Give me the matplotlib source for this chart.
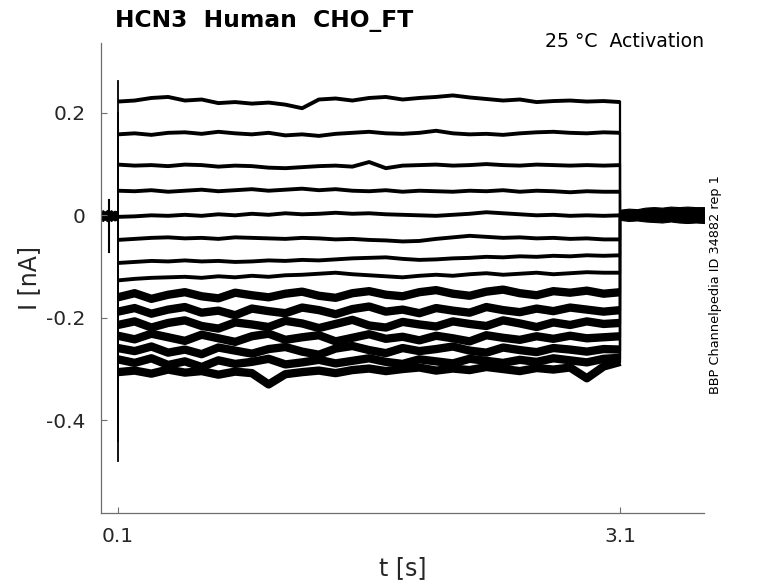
import numpy as np
import matplotlib
matplotlib.use("Agg")
import matplotlib.pyplot as plt

# --- data ---
step_t = np.round(np.arange(0.1, 3.101, 0.1), 2)   # sample times during the step [s]

tr01 = [0.222, 0.224, 0.229, 0.231, 0.224, 0.226, 0.219, 0.221, 0.218, 0.220, 0.216, 0.209, 0.226, 0.228, 0.224, 0.229,
        0.231, 0.226, 0.229, 0.231, 0.234, 0.230, 0.227, 0.224, 0.226, 0.221, 0.223, 0.224, 0.222, 0.223, 0.221]
tr02 = [0.158, 0.160, 0.157, 0.161, 0.162, 0.159, 0.163, 0.160, 0.158, 0.161, 0.156, 0.158, 0.155, 0.159, 0.161, 0.163,
        0.160, 0.159, 0.161, 0.165, 0.160, 0.158, 0.159, 0.157, 0.160, 0.162, 0.163, 0.161, 0.160, 0.162, 0.161]
tr03 = [0.099, 0.097, 0.098, 0.096, 0.099, 0.098, 0.095, 0.097, 0.096, 0.093, 0.092, 0.094, 0.096, 0.097, 0.095, 0.104,
        0.092, 0.097, 0.098, 0.099, 0.097, 0.098, 0.100, 0.098, 0.097, 0.099, 0.098, 0.097, 0.098, 0.097, 0.098]
tr04 = [0.048, 0.047, 0.049, 0.046, 0.048, 0.050, 0.047, 0.049, 0.051, 0.048, 0.050, 0.052, 0.049, 0.051, 0.048, 0.047,
        0.049, 0.046, 0.048, 0.047, 0.046, 0.048, 0.047, 0.049, 0.046, 0.048, 0.047, 0.045, 0.047, 0.046, 0.046]
tr05 = [-0.003, -0.002, 0.000, -0.001, 0.001, -0.001, 0.002, 0.000, 0.003, 0.001, 0.004, 0.002, 0.003, 0.005, 0.003, 0.004,
        0.002, 0.001, 0.000, -0.001, 0.001, 0.003, 0.006, 0.004, 0.002, 0.000, 0.001, -0.001, 0.000, -0.001, 0.000]
tr06 = [-0.048, -0.046, -0.044, -0.043, -0.045, -0.044, -0.046, -0.043, -0.044, -0.045, -0.046, -0.044, -0.045, -0.047, -0.046, -0.048,
        -0.049, -0.051, -0.050, -0.046, -0.043, -0.040, -0.042, -0.044, -0.043, -0.045, -0.044, -0.046, -0.045, -0.047, -0.047]
tr07 = [-0.093, -0.091, -0.089, -0.090, -0.088, -0.090, -0.089, -0.091, -0.090, -0.088, -0.089, -0.087, -0.088, -0.086, -0.084, -0.083,
        -0.082, -0.085, -0.087, -0.086, -0.084, -0.083, -0.081, -0.082, -0.080, -0.081, -0.079, -0.080, -0.078, -0.079, -0.078]
tr08 = [-0.127, -0.124, -0.122, -0.121, -0.120, -0.122, -0.119, -0.121, -0.118, -0.120, -0.117, -0.116, -0.114, -0.112, -0.115, -0.117,
        -0.119, -0.121, -0.118, -0.116, -0.118, -0.115, -0.113, -0.116, -0.114, -0.112, -0.115, -0.113, -0.111, -0.112, -0.112]
tr09 = [-0.160, -0.152, -0.163, -0.155, -0.150, -0.158, -0.162, -0.151, -0.156, -0.160, -0.153, -0.149, -0.157, -0.161, -0.152, -0.148,
        -0.155, -0.158, -0.150, -0.146, -0.153, -0.157, -0.149, -0.145, -0.152, -0.156, -0.148, -0.151, -0.147, -0.153, -0.150]
tr10 = [-0.188, -0.181, -0.192, -0.184, -0.179, -0.190, -0.186, -0.195, -0.182, -0.187, -0.191, -0.180, -0.185, -0.193, -0.183, -0.178,
        -0.188, -0.184, -0.191, -0.181, -0.186, -0.190, -0.179, -0.185, -0.189, -0.182, -0.187, -0.180, -0.184, -0.188, -0.185]
tr11 = [-0.214, -0.207, -0.219, -0.210, -0.205, -0.216, -0.221, -0.209, -0.213, -0.218, -0.206, -0.211, -0.220, -0.212, -0.204, -0.215,
        -0.219, -0.208, -0.213, -0.217, -0.207, -0.212, -0.216, -0.205, -0.211, -0.218, -0.209, -0.214, -0.207, -0.212, -0.210]
tr12 = [-0.235, -0.242, -0.231, -0.238, -0.245, -0.233, -0.240, -0.247, -0.236, -0.231, -0.243, -0.238, -0.234, -0.246, -0.239, -0.232,
        -0.241, -0.237, -0.244, -0.235, -0.240, -0.246, -0.234, -0.239, -0.243, -0.236, -0.241, -0.235, -0.240, -0.238, -0.236]
tr13 = [-0.259, -0.265, -0.256, -0.268, -0.262, -0.271, -0.258, -0.264, -0.270, -0.261, -0.257, -0.266, -0.272, -0.260, -0.255, -0.263,
        -0.269, -0.259, -0.265, -0.261, -0.256, -0.264, -0.268, -0.258, -0.263, -0.267, -0.259, -0.262, -0.266, -0.261, -0.262]
tr14 = [-0.281, -0.288, -0.279, -0.292, -0.285, -0.296, -0.283, -0.290, -0.286, -0.280, -0.291, -0.287, -0.282, -0.289, -0.284, -0.279,
        -0.286, -0.290, -0.281, -0.285, -0.289, -0.280, -0.284, -0.288, -0.282, -0.286, -0.279, -0.283, -0.287, -0.280, -0.278]
tr15 = [-0.306, -0.303, -0.309, -0.301, -0.307, -0.304, -0.311, -0.305, -0.308, -0.330, -0.310, -0.306, -0.303, -0.308, -0.302, -0.299,
        -0.304, -0.300, -0.297, -0.303, -0.299, -0.302, -0.296, -0.300, -0.304, -0.298, -0.301, -0.297, -0.318, -0.295, -0.286]
traces = [tr01, tr02, tr03, tr04, tr05, tr06, tr07, tr08, tr09, tr10, tr11, tr12, tr13, tr14, tr15]

# capacitive peak at step onset
onset_peak = [0.262, 0.20, 0.14, 0.08, 0.03, -0.06, -0.12, -0.17, -0.22, -0.27, -0.31, -0.36, -0.40, -0.44, -0.48]

# holding current before the step (all sweeps overlap)
pre_t = [0.0, 0.01, 0.02, 0.03, 0.04, 0.05, 0.06, 0.07, 0.08, 0.09, 0.1]
pre_hi = [0.008, 0.010, 0.007, 0.009, 0.011, 0.008, 0.010, 0.007, 0.009, 0.008, 0.009]
pre_lo = [-0.009, -0.011, -0.008, -0.010, -0.012, -0.009, -0.011, -0.008, -0.010, -0.009, -0.010]
artifact_t = 0.044
artifact_i = [0.03, -0.072]

# current after the step (all sweeps overlap)
post_t = [3.1, 3.15, 3.2, 3.25, 3.3, 3.35, 3.4, 3.45, 3.5, 3.55, 3.6]
post_hi = [0.011, 0.013, 0.012, 0.015, 0.016, 0.015, 0.017, 0.016, 0.017, 0.016, 0.016]
post_lo = [-0.009, -0.011, -0.010, -0.012, -0.013, -0.014, -0.012, -0.014, -0.015, -0.014, -0.015]

t_on, t_off = 0.1, 3.1

fig = plt.figure(figsize=(7.78, 5.83), dpi=100)
ax = fig.add_axes([0.13, 0.12, 0.775, 0.806])

for i, tr in enumerate(traces):
    lw = 2.8 if i < 8 else 6.0
    ax.plot(step_t, tr, color="black", lw=lw, solid_joinstyle="round", solid_capstyle="butt")
    ax.plot([t_on, t_on], [0, onset_peak[i]], color="black", lw=1.3)
    ax.plot([t_off, t_off], [tr[-1], 0], color="black", lw=1.6)

ax.fill_between(pre_t, pre_lo, pre_hi, color="black", lw=0.8)
ax.plot([artifact_t, artifact_t], artifact_i, color="black", lw=1.5)
ax.fill_between(post_t, post_lo, post_hi, color="black", lw=0.8)

ax.set_xlim(0, 3.6)
ax.set_ylim(-0.581, 0.336)
ax.set_xticks([0.1, 3.1])
ax.set_xticklabels(["0.1", "3.1"])
ax.set_yticks([-0.4, -0.2, 0, 0.2])
ax.set_yticklabels(["-0.4", "-0.2", "0", "0.2"])

for s in ["top", "right"]:
    ax.spines[s].set_visible(False)
for s in ["left", "bottom"]:
    ax.spines[s].set_color("#6e6e6e")
    ax.spines[s].set_linewidth(0.9)
ax.tick_params(direction="in", length=4, width=0.8, color="#6e6e6e",
               labelsize=14.5, labelcolor="#262626")
ax.tick_params(axis="y", pad=11)
ax.tick_params(axis="x", pad=10)

ax.set_xlabel("t [s]", fontsize=17, color="#262626", labelpad=7)
ax.set_ylabel("I [nA]", fontsize=17, color="#262626", labelpad=4)

fig.text(115 / 778, 1 - 27 / 583, "HCN3  Human  CHO_FT", fontsize=16.8,
         fontweight="bold", ha="left", va="baseline")
fig.text(704 / 778, 1 - 47 / 583, "25 °C  Activation", fontsize=13.6,
         ha="right", va="baseline")
fig.text(716 / 778, 1 - 285 / 583, "BBP Channelpedia ID 34882 rep 1", fontsize=9.3,
         rotation=90, ha="center", va="center")

fig.savefig("out.png", dpi=100)
